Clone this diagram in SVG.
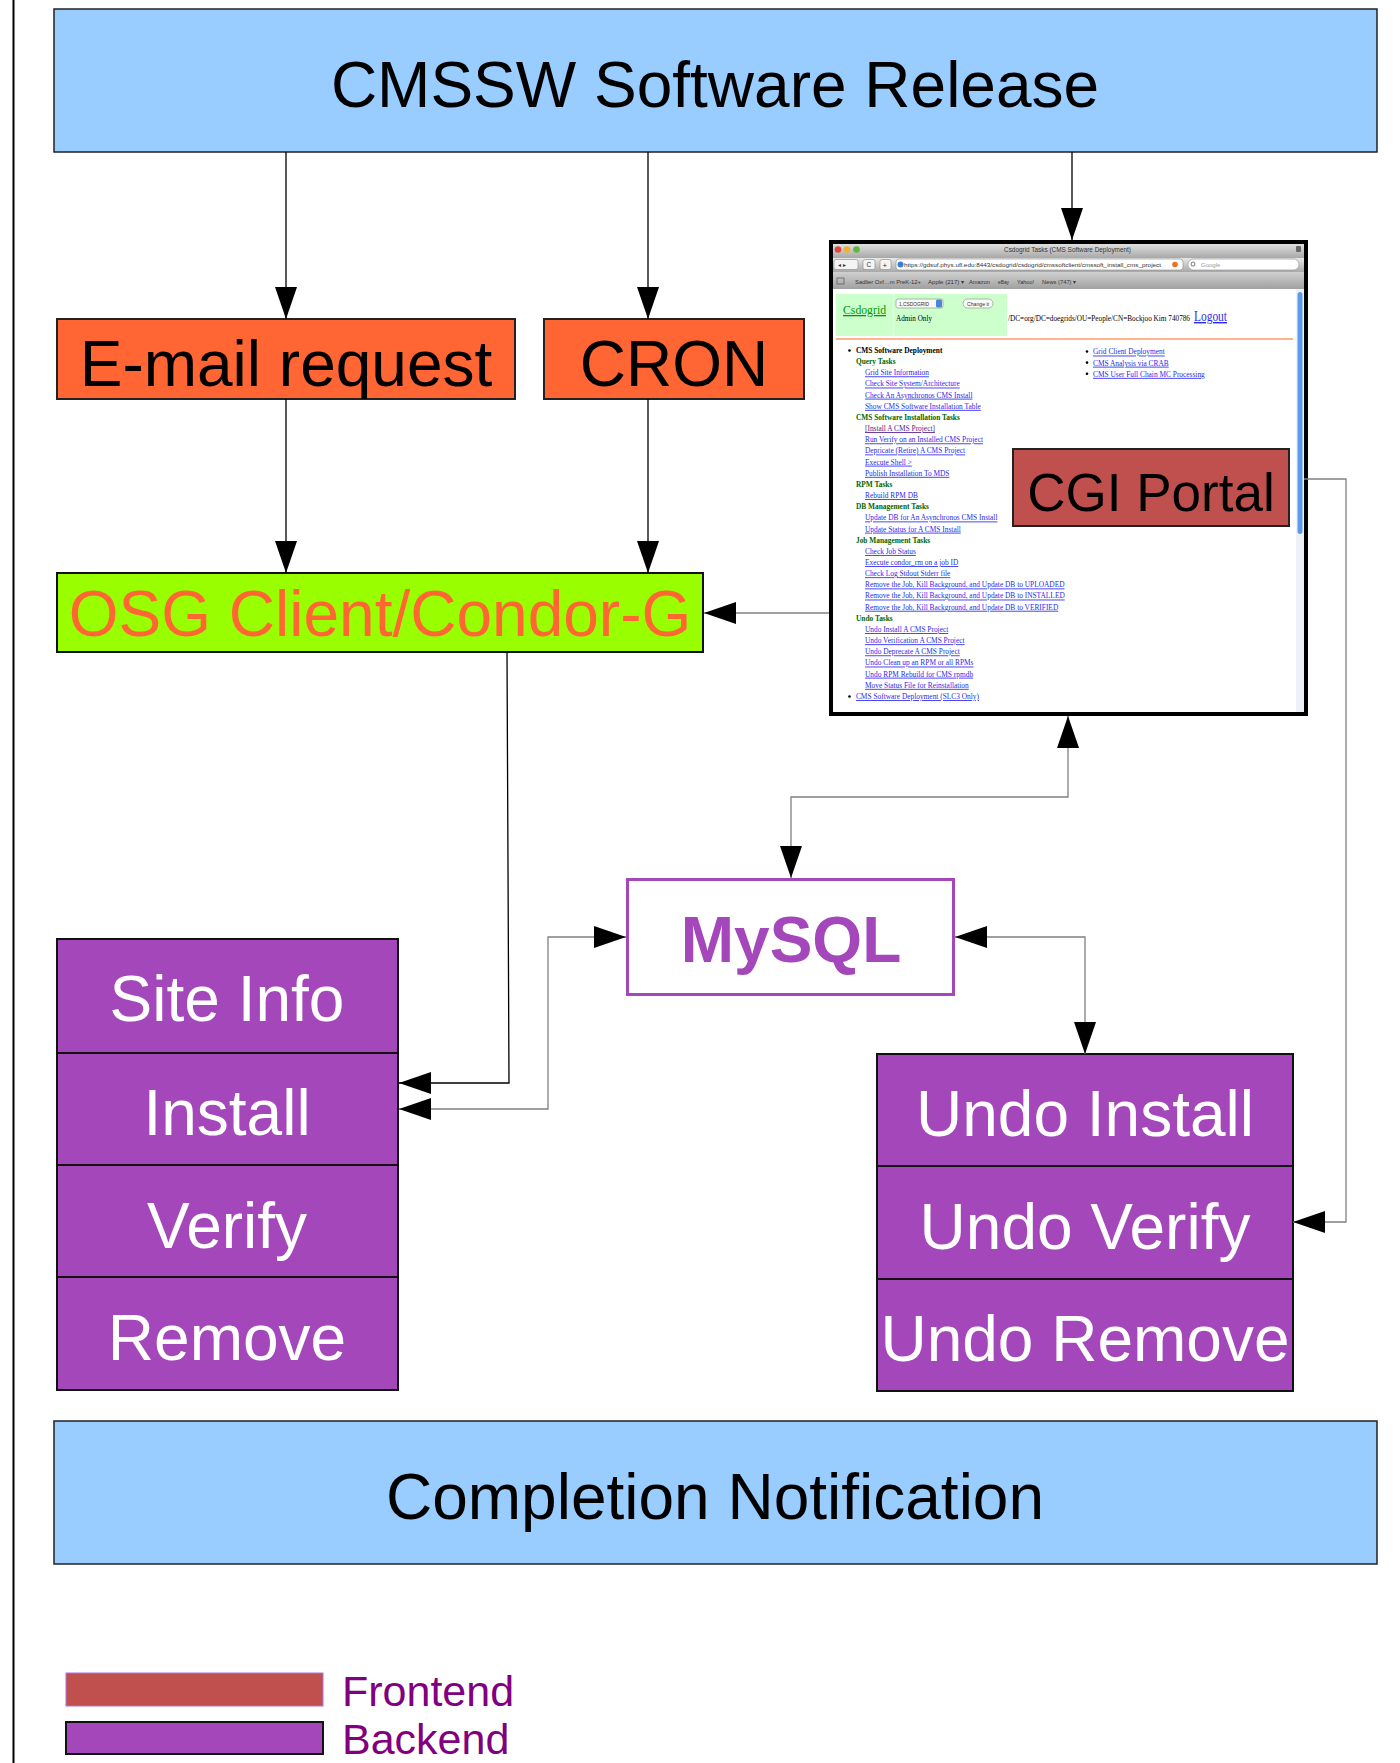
<svg xmlns="http://www.w3.org/2000/svg" width="1400" height="1763" viewBox="0 0 1400 1763">
<style>
.lbl{font-family:"Liberation Sans",Arial,sans-serif;font-size:64px;text-anchor:middle;fill:#000}
.wt{fill:#fff}
.blue{fill:#99ccff;stroke:#222;stroke-width:1.5}
.orange{fill:#ff6633;stroke:#222;stroke-width:2}
.purple{fill:#a347ba;stroke:#111;stroke-width:2}
.conn{fill:none;stroke:#000;stroke-width:1.3}
.gray{stroke:#808080}
.ss{font-family:"Liberation Serif","Times New Roman",serif;font-size:8.5px;fill:#000}
.lnk{fill:#2a2aee;text-decoration:underline}
.vis{fill:#551a8b;text-decoration:underline}
.hdr{fill:#006600;font-weight:bold}
.b{font-weight:bold}
.ui{font-family:"Liberation Sans",Arial,sans-serif;fill:#333}
</style>
<defs>
<marker id="ah" viewBox="0 0 32 22" refX="32" refY="11" markerWidth="32" markerHeight="22" markerUnits="userSpaceOnUse" orient="auto-start-reverse">
<path d="M0,0 L32,11 L0,22 z" fill="#000"/>
</marker>
<linearGradient id="tb" x1="0" y1="0" x2="0" y2="1">
<stop offset="0" stop-color="#e8e8e8"/><stop offset="1" stop-color="#a8a8a8"/>
</linearGradient>
<linearGradient id="bm" x1="0" y1="0" x2="0" y2="1">
<stop offset="0" stop-color="#d0d0d0"/><stop offset="1" stop-color="#a0a0a0"/>
</linearGradient>
</defs>
<rect width="1400" height="1763" fill="#fff"/>
<line x1="13.5" y1="0" x2="13.5" y2="1763" stroke="#000" stroke-width="2"/>

<g id="cmssw-release">
<rect class="blue" x="54" y="9" width="1323" height="143"/>
<text class="lbl" x="715" y="107">CMSSW Software Release</text>
</g>

<g id="email-request">
<rect class="orange" x="57" y="319" width="458" height="80"/>
<text class="lbl" x="286" y="386">E-mail request</text>
</g>

<g id="cron">
<rect class="orange" x="544" y="319" width="260" height="80"/>
<text class="lbl" x="674" y="386">CRON</text>
</g>

<g id="osg-client">
<rect x="57" y="573" width="646" height="79" fill="#99ff00" stroke="#111" stroke-width="2"/>
<text class="lbl" x="380" y="636" style="fill:#ff6633">OSG Client/Condor-G</text>
</g>

<g id="portal-screenshot">
<rect x="831" y="242" width="475" height="472" fill="#fff"/>
<rect x="831" y="242" width="475" height="16" fill="url(#tb)"/>
<circle cx="838" cy="249.5" r="3.3" fill="#e0443e"/>
<circle cx="847" cy="249.5" r="3.3" fill="#f0b030"/>
<circle cx="856.5" cy="249.5" r="3.3" fill="#5fb840"/>
<text class="ui" x="1004" y="252" font-size="7" textLength="127" lengthAdjust="spacingAndGlyphs">Csdogrid Tasks (CMS Software Deployment)</text>
<rect x="1296" y="246" width="5" height="6" rx="1" fill="#666"/>
<rect x="831" y="258" width="475" height="14" fill="url(#tb)"/>
<rect x="834" y="259.5" width="24" height="10" rx="2" fill="#f4f4f4" stroke="#888" stroke-width="0.6"/>
<text class="ui" x="838" y="267" font-size="6">◂ ▸</text>
<rect x="863" y="259.5" width="12" height="10" rx="2" fill="#f4f4f4" stroke="#888" stroke-width="0.6"/>
<text class="ui" x="866.5" y="267" font-size="6.5">C</text>
<rect x="880" y="259.5" width="11" height="10" rx="2" fill="#f4f4f4" stroke="#888" stroke-width="0.6"/>
<text class="ui" x="882.5" y="267.5" font-size="8">+</text>
<rect x="896" y="259" width="287" height="11" rx="3" fill="#fff" stroke="#888" stroke-width="0.6"/>
<circle cx="900.5" cy="264.5" r="3" fill="#3b7fd0"/>
<text class="ui" x="904" y="267" font-size="6" textLength="257" lengthAdjust="spacingAndGlyphs">https://gdsuf.phys.ufl.edu:8443/csdogrid/csdogrid/cmssoftclient/cmssoft_install_cms_project</text>
<circle cx="1175" cy="264.5" r="2.8" fill="#f07020"/>
<rect x="1188" y="259" width="111" height="11" rx="5.5" fill="#fff" stroke="#888" stroke-width="0.6"/>
<circle cx="1193" cy="264" r="2" fill="none" stroke="#555" stroke-width="0.8"/>
<text class="ui" x="1201" y="267" font-size="6" style="fill:#999">Google</text>
<rect x="831" y="272" width="475" height="17" fill="url(#bm)"/>
<rect x="837" y="278" width="7" height="6" fill="none" stroke="#555" stroke-width="0.7"/>
<text class="ui" x="855" y="284" font-size="6" textLength="66" lengthAdjust="spacingAndGlyphs">Sadlier Oxf…m PreK-12+</text>
<text class="ui" x="928" y="284" font-size="6" textLength="36" lengthAdjust="spacingAndGlyphs">Apple (217) ▾</text>
<text class="ui" x="969" y="284" font-size="6" textLength="21" lengthAdjust="spacingAndGlyphs">Amazon</text>
<text class="ui" x="998" y="284" font-size="6" textLength="11" lengthAdjust="spacingAndGlyphs">eBay</text>
<text class="ui" x="1017" y="284" font-size="6" textLength="17" lengthAdjust="spacingAndGlyphs">Yahoo!</text>
<text class="ui" x="1042" y="284" font-size="6" textLength="34" lengthAdjust="spacingAndGlyphs">News (747) ▾</text>
<rect x="1296" y="289" width="8" height="425" fill="#eef2f8"/>
<rect x="1297.5" y="292" width="5" height="242" rx="2.5" fill="#5b9be8"/>
<rect x="836" y="294" width="57" height="42" fill="#ccffcc"/>
<rect x="894" y="294" width="113" height="42" fill="#ccffcc"/>
<text x="843" y="314" font-family="Liberation Serif,serif" font-size="13" fill="#009900" text-decoration="underline" textLength="43" lengthAdjust="spacingAndGlyphs">Csdogrid</text>
<rect x="896" y="299" width="47" height="9" rx="2" fill="#f8f8f8" stroke="#888" stroke-width="0.6"/>
<text class="ui" x="899" y="306" font-size="5.5" textLength="30" lengthAdjust="spacingAndGlyphs">1,CSDOGRID</text>
<rect x="936" y="299.5" width="6" height="8" rx="1.5" fill="#4a86d8"/>
<rect x="963" y="299" width="30" height="9" rx="4.5" fill="#f8f8f8" stroke="#888" stroke-width="0.6"/>
<text class="ui" x="967" y="306" font-size="5.5" textLength="22" lengthAdjust="spacingAndGlyphs">Change it</text>
<text class="ss" x="896" y="321" textLength="36" lengthAdjust="spacingAndGlyphs">Admin Only</text>
<text class="ss" x="1008" y="321" style="font-size:7.5px" textLength="182" lengthAdjust="spacingAndGlyphs">/DC=org/DC=doegrids/OU=People/CN=Bockjoo Kim 740786</text>
<text class="ss lnk" x="1194" y="321" style="font-size:14px" textLength="33" lengthAdjust="spacingAndGlyphs">Logout</text>
<line x1="836" y1="339" x2="1293" y2="339" stroke="#ff9966" stroke-width="1.5"/>
<circle cx="849.5" cy="350.5" r="1.3" fill="#000"/>
<circle cx="849.5" cy="696.5" r="1.3" fill="#000"/>
<g transform="translate(849 0) scale(0.87 1)">
<text class="ss b" x="8" y="353">CMS Software Deployment</text>
<text class="ss hdr" x="8" y="364.2">Query Tasks</text>
<text class="ss lnk" x="18.4" y="375.3">Grid Site Information</text>
<text class="ss lnk" x="18.4" y="386.5">Check Site System/Architecture</text>
<text class="ss lnk" x="18.4" y="397.6">Check An Asynchronos CMS Install</text>
<text class="ss lnk" x="18.4" y="408.8">Show CMS Software Installation Table</text>
<text class="ss hdr" x="8" y="420">CMS Software Installation Tasks</text>
<text class="ss vis" x="18.4" y="431.1">[Install A CMS Project]</text>
<text class="ss lnk" x="18.4" y="442.3">Run Verify on an Installed CMS Project</text>
<text class="ss lnk" x="18.4" y="453.4">Depricate (Retire) A CMS Project</text>
<text class="ss lnk" x="18.4" y="464.6">Execute Shell &gt;</text>
<text class="ss lnk" x="18.4" y="475.8">Publish Installation To MDS</text>
<text class="ss hdr" x="8" y="486.9">RPM Tasks</text>
<text class="ss lnk" x="18.4" y="498.1">Rebuild RPM DB</text>
<text class="ss hdr" x="8" y="509.2">DB Management Tasks</text>
<text class="ss lnk" x="18.4" y="520.4">Update DB for An Asynchronos CMS Install</text>
<text class="ss lnk" x="18.4" y="531.6">Update Status for A CMS Install</text>
<text class="ss hdr" x="8" y="542.7">Job Management Tasks</text>
<text class="ss lnk" x="18.4" y="553.9">Check Job Status</text>
<text class="ss lnk" x="18.4" y="565">Execute condor_rm on a job ID</text>
<text class="ss lnk" x="18.4" y="576.2">Check Log Stdout Stderr file</text>
<text class="ss lnk" x="18.4" y="587.4">Remove the Job, Kill Background, and Update DB to UPLOADED</text>
<text class="ss lnk" x="18.4" y="598.5">Remove the Job, Kill Background, and Update DB to INSTALLED</text>
<text class="ss lnk" x="18.4" y="609.7">Remove the Job, Kill Background, and Update DB to VERIFIED</text>
<text class="ss hdr" x="8" y="620.8">Undo Tasks</text>
<text class="ss lnk" x="18.4" y="632">Undo Install A CMS Project</text>
<text class="ss lnk" x="18.4" y="643.2">Undo Verification A CMS Project</text>
<text class="ss lnk" x="18.4" y="654.3">Undo Deprecate A CMS Project</text>
<text class="ss lnk" x="18.4" y="665.5">Undo Clean up an RPM or all RPMs</text>
<text class="ss lnk" x="18.4" y="676.6">Undo RPM Rebuild for CMS rpmdb</text>
<text class="ss lnk" x="18.4" y="687.8">Move Status File for Reinstallation</text>
<text class="ss lnk" x="8" y="699">CMS Software Deployment (SLC3 Only)</text>
</g>
<circle cx="1087" cy="351.5" r="1.3" fill="#000"/>
<circle cx="1087" cy="362.6" r="1.3" fill="#000"/>
<circle cx="1087" cy="373.8" r="1.3" fill="#000"/>
<g transform="translate(1093 0) scale(0.87 1)">
<text class="ss lnk" x="0" y="354.5">Grid Client Deployment</text>
<text class="ss lnk" x="0" y="365.6">CMS Analysis via CRAB</text>
<text class="ss lnk" x="0" y="376.8">CMS User Full Chain MC Processing</text>
</g>
<rect x="831" y="242" width="475" height="472" fill="none" stroke="#000" stroke-width="4"/>
</g>

<g id="cgi-portal">
<rect x="1013" y="449" width="276" height="77" fill="#c0504d" stroke="#222" stroke-width="2"/>
<text class="lbl" x="1151" y="511" style="font-size:53px">CGI Portal</text>
</g>

<g id="mysql">
<rect x="627.5" y="879.5" width="326" height="115" fill="#fff" stroke="#a347ba" stroke-width="3"/>
<text class="lbl" x="791" y="962" style="font-weight:bold;fill:#a347ba">MySQL</text>
</g>

<g id="site-info">
<rect class="purple" x="57" y="939" width="341" height="114"/>
<text class="lbl wt" x="227" y="1021">Site Info</text>
</g>
<g id="install">
<rect class="purple" x="57" y="1053" width="341" height="112"/>
<text class="lbl wt" x="227" y="1135">Install</text>
</g>
<g id="verify">
<rect class="purple" x="57" y="1165" width="341" height="112"/>
<text class="lbl wt" x="227" y="1248">Verify</text>
</g>
<g id="remove">
<rect class="purple" x="57" y="1277" width="341" height="113"/>
<text class="lbl wt" x="227" y="1360">Remove</text>
</g>

<g id="undo-install">
<rect class="purple" x="877" y="1054" width="416" height="112"/>
<text class="lbl wt" x="1085" y="1136">Undo Install</text>
</g>
<g id="undo-verify">
<rect class="purple" x="877" y="1166" width="416" height="113"/>
<text class="lbl wt" x="1085" y="1249">Undo Verify</text>
</g>
<g id="undo-remove">
<rect class="purple" x="877" y="1279" width="416" height="112"/>
<text class="lbl wt" x="1085" y="1361">Undo Remove</text>
</g>

<g id="completion-notification">
<rect class="blue" x="54" y="1421" width="1323" height="143"/>
<text class="lbl" x="715" y="1519">Completion Notification</text>
</g>

<g id="legend">
<rect x="66" y="1673" width="257" height="33" fill="#c0504d" stroke="#b070e0" stroke-width="1"/>
<text x="342" y="1706" font-family="Liberation Sans,Arial,sans-serif" font-size="43" fill="#800080">Frontend</text>
<rect x="66" y="1722" width="257" height="32" fill="#a347ba" stroke="#111" stroke-width="2"/>
<text x="342" y="1754" font-family="Liberation Sans,Arial,sans-serif" font-size="43" fill="#800080">Backend</text>
</g>

<g id="connectors">
<path class="conn" d="M286 152 V319" marker-end="url(#ah)"/>
<path class="conn" d="M648 152 V319" marker-end="url(#ah)"/>
<path class="conn" d="M1072 152 V240" marker-end="url(#ah)"/>
<path class="conn" d="M286 399 V573" marker-end="url(#ah)"/>
<path class="conn" d="M648 399 V573" marker-end="url(#ah)"/>
<path class="conn gray" d="M829 613 H704" marker-end="url(#ah)"/>
<path class="conn" d="M507 652 L509 1083 H399" marker-end="url(#ah)"/>
<path class="conn gray" d="M626 937 H548 V1109 H399" marker-start="url(#ah)" marker-end="url(#ah)"/>
<path class="conn gray" d="M1068 716 V797 H791 V878" marker-start="url(#ah)" marker-end="url(#ah)"/>
<path class="conn gray" d="M955 937 H1085 V1054" marker-start="url(#ah)" marker-end="url(#ah)"/>
<path class="conn gray" d="M1304 479 H1346 V1222 H1293" marker-end="url(#ah)"/>
</g>
</svg>
